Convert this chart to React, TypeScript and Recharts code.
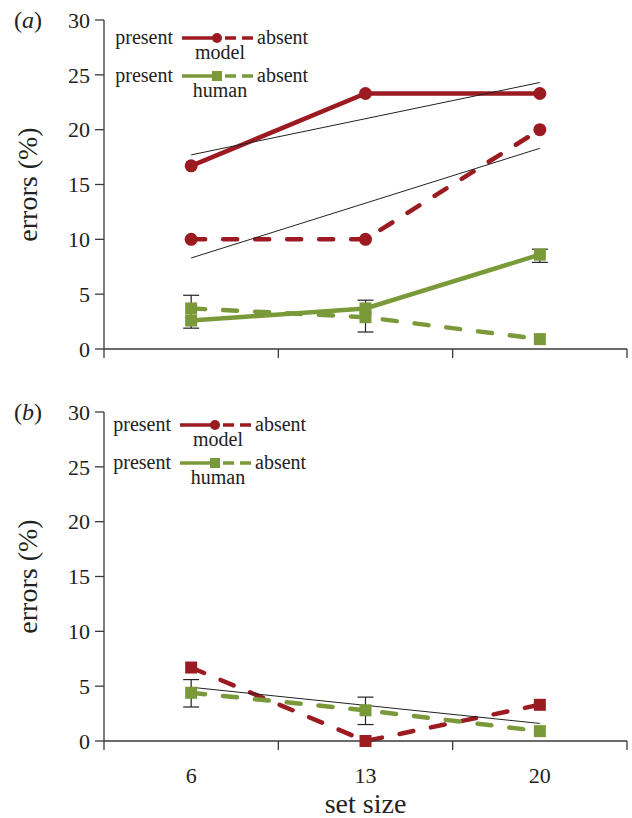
import React from 'react';
import { ComposedChart, Line, XAxis, YAxis, ErrorBar, Legend, Label } from 'recharts';

// ---- shared ----
const setSizes = ['6', '13', '20'];
const xIndex = [0, 1, 2];
const yTicks = [0, 5, 10, 15, 20, 25, 30];
const xTicks = [-0.5, 0, 0.5, 1, 1.5, 2, 2.5];

// ---- panel (a) ----
const modelPresentA = [16.7, 23.3, 23.3];
const modelAbsentA = [10, 10, 20];
const humanPresentA = [2.6, 3.7, 8.6];
const humanAbsentA = [3.7, 2.9, 0.9];
const fitUpperA = [17.7, null, 24.3];
const fitLowerA = [8.3, null, 18.3];
const errCenterA = [3.4, 3.0, 8.5];
const errSizeA = [1.5, 1.45, 0.6];

// ---- panel (b) ----
const modelAbsentB = [6.7, 0, 3.3];
const humanAbsentB = [4.4, 2.8, 0.9];
const fitB = [4.9, null, 1.6];
const errCenterB = [4.35, 2.75, null];
const errSizeB = [1.25, 1.25, null];

const RED = '#9b1b21';
const GREEN = '#7a9a3a';
const INK = '#222';
const AXIS = '#3a3a3a';
const FONT = "'Liberation Serif', 'Times New Roman', serif";

const dataA = xIndex.map((x, i) => ({
  x,
  modelPresent: modelPresentA[i],
  modelAbsent: modelAbsentA[i],
  humanPresent: humanPresentA[i],
  humanAbsent: humanAbsentA[i],
  fitUpper: fitUpperA[i],
  fitLower: fitLowerA[i],
  errCenter: errCenterA[i],
  errSize: errSizeA[i],
}));

const dataB = xIndex.map((x, i) => ({
  x,
  modelAbsent: modelAbsentB[i],
  humanAbsent: humanAbsentB[i],
  fit: fitB[i],
  errCenter: errCenterB[i],
  errSize: errSizeB[i],
}));

const circleDot = (color: string) => (p: any) =>
  p.cy == null ? <g key={`c${p.index}`} /> : <circle key={`c${p.index}`} cx={p.cx} cy={p.cy} r={6.5} fill={color} />;
const squareDot = (color: string) => (p: any) =>
  p.cy == null ? <g key={`s${p.index}`} /> : (
    <rect key={`s${p.index}`} x={p.cx - 6} y={p.cy - 6} width={12} height={12} fill={color} />
  );

const makeXTick = (showLabels: boolean) => (props: any) => {
  const { x, y, payload } = props;
  const v = payload.value;
  if (Number.isInteger(v)) {
    if (!showLabels) return <g />;
    return (
      <text x={x} y={y + 42} textAnchor="middle" fontSize={22} fontFamily={FONT} fill={INK}>
        {setSizes[v]}
      </text>
    );
  }
  return <line x1={x} y1={y} x2={x} y2={y + 9} stroke={AXIS} strokeWidth={1.3} />;
};

const YLabel = (tag: string) => (props: any) => {
  const vb = props.viewBox || { x: 0, y: 20, width: 104, height: 329 };
  const cy = vb.y + vb.height / 2;
  return (
    <g>
      <text
        x={27}
        y={cy}
        transform={`rotate(-90 27 ${cy})`}
        textAnchor="middle"
        dominantBaseline="central"
        fontSize={28}
        fontFamily={FONT}
        fill={INK}
      >
        errors (%)
      </text>
      <text x={28} y={vb.y + 8} textAnchor="middle" fontSize={24} fontFamily={FONT} fill={INK}>
        (<tspan fontStyle="italic">{tag}</tspan>)
      </text>
    </g>
  );
};

const LegendRow = ({ y, color, marker, name }: any) => (
  <g>
    <text x={63} y={y + 6} textAnchor="end" fontSize={20} fontFamily={FONT} fill={INK}>present</text>
    <line x1={72} y1={y} x2={104} y2={y} stroke={color} strokeWidth={3.5} />
    {marker === 'circle' ? (
      <circle cx={107} cy={y} r={5} fill={color} />
    ) : (
      <rect x={102} y={y - 5} width={10} height={10} fill={color} />
    )}
    <line x1={115} y1={y} x2={143} y2={y} stroke={color} strokeWidth={3.5} strokeDasharray="11 6" />
    <text x={147} y={y + 6} textAnchor="start" fontSize={20} fontFamily={FONT} fill={INK}>absent</text>
    <text x={110} y={y + 21} textAnchor="middle" fontSize={20} fontFamily={FONT} fill={INK}>{name}</text>
  </g>
);

const LegendBox = ({ modelMarker }: any) => (
  <svg width={230} height={80} style={{ overflow: 'visible', display: 'block' }}>
    <LegendRow y={13} color={RED} marker={modelMarker} name="model" />
    <LegendRow y={51} color={GREEN} marker="square" name="human" />
  </svg>
);

const commonY = (tag: string) => (
  <YAxis
    type="number"
    domain={[0, 30]}
    ticks={yTicks}
    interval={0}
    width={104}
    tickSize={9}
    tickMargin={5}
    stroke={AXIS}
    strokeWidth={1.3}
    tick={{ fill: INK, fontSize: 22, fontFamily: FONT }}
  >
    <Label content={YLabel(tag)} />
  </YAxis>
);

const dashed = '14 18';
const LW = 4.5;

export default function App() {
  return (
    <div style={{ position: 'absolute', left: 0, top: 0, width: 632, height: 818, background: '#fff' }}>
      <div style={{ position: 'absolute', left: 0, top: 0 }}>
        <ComposedChart width={632} height={369} data={dataA} margin={{ top: 20, right: 5, left: 0, bottom: 0 }}>
          <XAxis
            dataKey="x"
            type="number"
            domain={[-0.5, 2.5]}
            ticks={xTicks}
            interval={0}
            height={20}
            tickSize={0}
            tickMargin={0}
            tickLine={false}
            stroke={AXIS}
            strokeWidth={1.3}
            tick={makeXTick(false)}
          />
          {commonY('a')}
          <Legend
            layout="horizontal"
            verticalAlign="middle"
            align="center"
            content={() => <LegendBox modelMarker="circle" />}
            wrapperStyle={{ position: 'absolute', left: 110, top: 25, width: 230, height: 80 }}
          />
          <Line dataKey="modelPresent" stroke={RED} strokeWidth={LW} dot={circleDot(RED)} isAnimationActive={false} />
          <Line dataKey="modelAbsent" stroke={RED} strokeWidth={LW} strokeDasharray={dashed} strokeLinecap="round" dot={circleDot(RED)} isAnimationActive={false} />
          <Line dataKey="humanAbsent" stroke={GREEN} strokeWidth={LW} strokeDasharray={dashed} strokeLinecap="round" dot={squareDot(GREEN)} isAnimationActive={false} />
          <Line dataKey="humanPresent" stroke={GREEN} strokeWidth={LW} dot={squareDot(GREEN)} isAnimationActive={false} />
          <Line dataKey="fitUpper" stroke={INK} strokeWidth={1} dot={false} connectNulls isAnimationActive={false} />
          <Line dataKey="fitLower" stroke={INK} strokeWidth={1} dot={false} connectNulls isAnimationActive={false} />
          <Line dataKey="errCenter" stroke="none" dot={false} isAnimationActive={false}>
            <ErrorBar dataKey="errSize" width={8} stroke={INK} strokeWidth={1.2} direction="y" />
          </Line>
        </ComposedChart>
      </div>
      <div style={{ position: 'absolute', left: 0, top: 392 }}>
        <ComposedChart width={632} height={426} data={dataB} margin={{ top: 20, right: 5, left: 0, bottom: 0 }}>
          <XAxis
            dataKey="x"
            type="number"
            domain={[-0.5, 2.5]}
            ticks={xTicks}
            interval={0}
            height={77}
            tickSize={0}
            tickMargin={0}
            tickLine={false}
            stroke={AXIS}
            strokeWidth={1.3}
            tick={makeXTick(true)}
          >
            <Label value="set size" position="insideBottom" offset={5} fontSize={28} fontFamily={FONT} fill={INK} />
          </XAxis>
          {commonY('b')}
          <Legend
            layout="horizontal"
            verticalAlign="middle"
            align="center"
            content={() => <LegendBox modelMarker="circle" />}
            wrapperStyle={{ position: 'absolute', left: 108, top: 20, width: 230, height: 80 }}
          />
          <Line dataKey="modelAbsent" stroke={RED} strokeWidth={LW} strokeDasharray={dashed} strokeLinecap="round" dot={squareDot(RED)} isAnimationActive={false} />
          <Line dataKey="humanAbsent" stroke={GREEN} strokeWidth={LW} strokeDasharray={dashed} strokeLinecap="round" dot={squareDot(GREEN)} isAnimationActive={false} />
          <Line dataKey="fit" stroke={INK} strokeWidth={1} dot={false} connectNulls isAnimationActive={false} />
          <Line dataKey="errCenter" stroke="none" dot={false} isAnimationActive={false}>
            <ErrorBar dataKey="errSize" width={8} stroke={INK} strokeWidth={1.2} direction="y" />
          </Line>
        </ComposedChart>
      </div>
    </div>
  );
}
